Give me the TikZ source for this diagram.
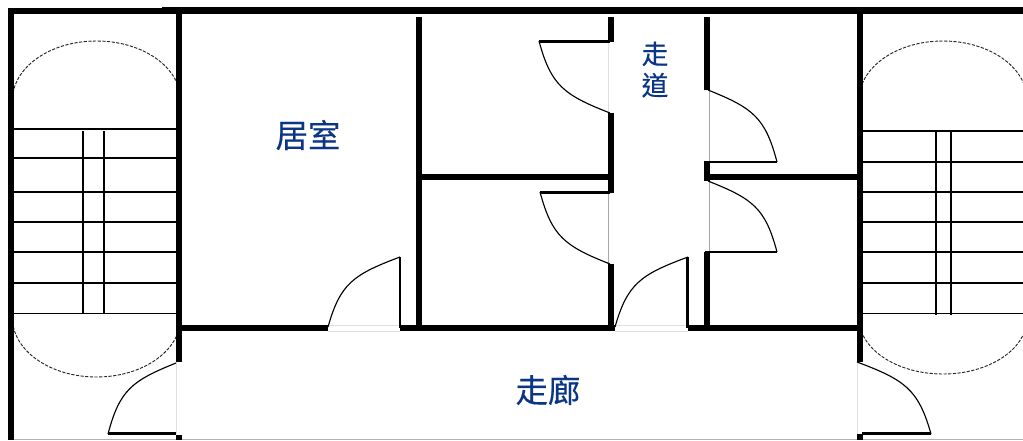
\documentclass[tikz,border=0pt]{standalone}
\usepackage{fontspec}
\newfontfamily\cjkfont[FakeBold=0.35]{Noto Sans CJK TC}
\definecolor{labelblue}{HTML}{0B3585}
\tikzset{
  wall/.style={line width=4.4pt,black,line cap=butt},
  doorleaf/.style={line width=2.1pt,black,line cap=butt},
  post/.style={line width=2.2pt,black,line cap=butt},
  swing/.style={line width=0.85pt,black},
  tread/.style={line width=1.2pt,black},
  sill/.style={line width=0.5pt,gray!70},
  paleSill/.style={line width=0.6pt,gray!25},
  landing/.style={line width=0.7pt,black!85,dash pattern=on 2.4pt off 1.1pt},
  roomlabel/.style={text=labelblue,font=\cjkfont\fontsize{24.3}{26}\selectfont,inner sep=0pt},
  aisle/.style={text=labelblue,font=\cjkfont\fontsize{20}{23.5}\selectfont,inner sep=0pt,align=center}
}
\begin{document}
\begin{tikzpicture}[x=0.75pt,y=-0.75pt]
\useasboundingbox (0,0) rectangle (1023,440);
% thin lines at bottom and door sills
\draw[line width=0.6pt,gray!60] (13,439.3) -- (1023,439.3);
\draw[paleSill] (176,362) -- (176,434);
\draw[paleSill] (857,362) -- (857,434);
\draw[paleSill] (328,325.5) -- (400,325.5) (328,331.3) -- (400,331.3);
\draw[paleSill] (615,325.5) -- (688,325.5) (615,331.3) -- (688,331.3);
\draw[paleSill] (608,41) -- (608,113);
\draw[sill] (608,192) -- (608,264);
\draw[sill] (709,90) -- (709,162) (709,181) -- (709,252);
% left stairs
\foreach \y in {129,158,192,222,252,282.7,313.3} \draw[tread] (13,\y) -- (176,\y);
\draw[tread] (83,131) -- (83,313) (104,131) -- (104,313);
\begin{scope}
\clip (13,30) rectangle (176,97);
\draw[landing] (96.5,100) ellipse [x radius=84,y radius=59];
\end{scope}
\begin{scope}
\clip (13,313) rectangle (176,385);
\draw[landing] (96.5,318) ellipse [x radius=84,y radius=59];
\end{scope}
% right stairs
\foreach \y in {131,161.7,192,222,252,282.7,313.3} \draw[tread] (862,\y) -- (1023,\y);
\draw[tread] (935.7,132) -- (935.7,314.5) (950.7,132) -- (950.7,314.5);
\begin{scope}
\clip (863,30) rectangle (1023,97);
\draw[landing] (943,100) ellipse [x radius=84,y radius=59];
\end{scope}
\begin{scope}
\clip (863,313) rectangle (1023,385);
\draw[landing] (943,318) ellipse [x radius=84,y radius=56];
\end{scope}
% outer walls
\draw[wall] (8,11) -- (170,11);
\draw[wall,line width=4.9pt] (162,10.7) -- (1023,10.7);
\draw[wall] (10.7,8.5) -- (10.7,440);
\draw[wall] (178.8,7.5) -- (178.8,361.7) (178.8,435) -- (178.8,440);
\draw[wall] (859.7,7.5) -- (859.7,361.7) (859.7,434) -- (859.7,440);
% corridor wall
\draw[wall] (181,328.3) -- (328,328.3) (400,328.3) -- (615,328.3) (688,328.3) -- (859,328.3);
% partitions
\draw[wall] (419,17) -- (419,328);
\draw[wall] (419,177) -- (611,177);
\draw[wall] (707,177) -- (859,177);
\draw[wall] (611,17) -- (611,41.7) (611,113) -- (611,193) (611,264) -- (611,328);
\draw[wall] (707,17) -- (707,90) (707,161) -- (707,180.5) (707,251.5) -- (707,328);
% door leaves
\draw[doorleaf] (539,41.2) -- (610,41.2);
\draw[doorleaf] (540,192.3) -- (610,192.3);
\draw[doorleaf] (705,162) -- (777,162);
\draw[doorleaf] (705,252) -- (777,252);
\draw[doorleaf] (108,433.8) -- (176,433.8);
\draw[doorleaf] (862,433.8) -- (931,433.8);
\draw[post] (400,257) -- (400,328);
\draw[post] (687.4,257) -- (687.4,328);
% door swings
\draw[swing] (539,41) .. controls (551,85.6) and (563.9,95) .. (610,113);
\draw[swing] (540,192) .. controls (552,236.6) and (564.5,246) .. (610,264);
\draw[swing] (708,90) .. controls (752.9,108) and (765.3,117.4) .. (777,162);
\draw[swing] (708,181) .. controls (752.9,198.8) and (765.3,208) .. (777,252);
\draw[swing] (328,327) .. controls (340.2,283.6) and (353.2,274.5) .. (400,257);
\draw[swing] (615,327) .. controls (627.4,283.6) and (640.6,274.5) .. (688,257);
\draw[swing] (108,434) .. controls (119.6,390) and (131.8,380.8) .. (176,363);
\draw[swing] (931,434) .. controls (918.4,389.4) and (905.1,380) .. (857,362);
% labels
\node[roomlabel] (room) at (308,135) {居室};
\node[roomlabel] (hall) at (548,390) {走廊};
\node[aisle] (aisle) at (655,69.5) {走\\道};
\end{tikzpicture}
\end{document}
